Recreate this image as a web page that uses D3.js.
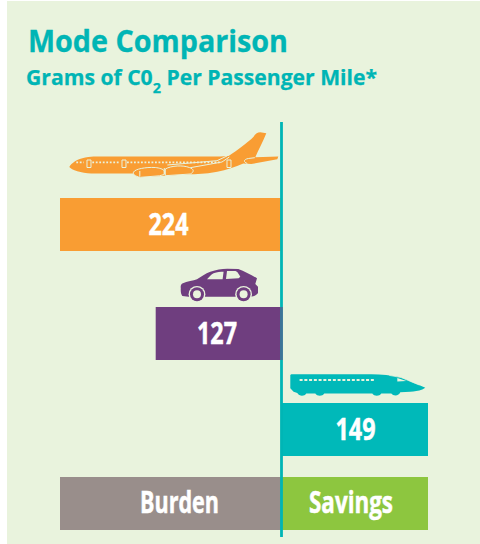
<!DOCTYPE html>
<html><head><meta charset="utf-8">
<script src="https://cdn.jsdelivr.net/npm/d3@7"></script>
<style>html,body{margin:0;padding:0;background:#fff}svg{display:block}</style>
</head><body><div id="c"></div>
<script>
const modes = ["Air","Car","Rail"];
const values = [-224,-127,149];
const valueLabels = ["224","127","149"];
const modeColors = ["#f99d33","#6f3e7f","#00b9b9"];
const legendLabels = ["Burden","Savings"];
const legendValues = [-224,149];
const legendColors = ["#998e8b","#8dc63f"];
const titleText = "Mode Comparison";

const W=480,H=544,BG="#e9f3dd",teal="#00b5b5";
const svg=d3.select("#c").append("svg").attr("width",W).attr("height",H);
svg.append("rect").attr("x",7).attr("y",1).attr("width",473).attr("height",543).attr("fill",BG);

const x=d3.scaleLinear().domain([-224,149]).range([60,428]);
const y=d3.scaleOrdinal().domain(modes).range([198,307,403]);
const bh=53, x0=x(0)+0.3;

svg.append("text").attr("x",28).attr("y",52).attr("fill",teal).attr("stroke",teal).attr("stroke-width",0.3)
  .attr("font-family","'Open Sans'").attr("font-weight",700).attr("font-size",29.5)
  .attr("textLength",260).attr("lengthAdjust","spacingAndGlyphs").text(titleText);
const st=svg.append("text").attr("x",26).attr("y",85).attr("fill",teal).attr("stroke",teal).attr("stroke-width",0.25)
  .attr("font-family","'Open Sans'").attr("font-weight",700).attr("font-size",20.5)
  .attr("textLength",351).attr("lengthAdjust","spacingAndGlyphs");
st.append("tspan").text("Grams of C0");
st.append("tspan").attr("font-size",14).attr("dy",8).text("2");
st.append("tspan").attr("dy",-8).text(" Per Passenger Mile*");

const cond=(s,cx,cy,w)=>svg.append("text").attr("x",cx-w/2).attr("y",cy)
  .attr("fill","#fff").attr("stroke","#fff").attr("stroke-width",0.5).attr("font-family","'Open Sans'").attr("font-weight",700).attr("font-size",29.5)
  .attr("textLength",w).attr("lengthAdjust","spacingAndGlyphs").text(s);

svg.selectAll("rect.bar").data(modes).join("rect").attr("class","bar")
  .attr("x",(d,i)=>Math.min(x(values[i]),x0)).attr("y",d=>y(d))
  .attr("width",(d,i)=>Math.abs(x(values[i])-x0)).attr("height",bh)
  .attr("fill",(d,i)=>modeColors[i]);
const labelCx=[168.5,217,355.5];
modes.forEach((d,i)=>cond(valueLabels[i],labelCx[i],y(d)+bh/2+10.5,40));

const ly=477;
legendLabels.forEach((s,i)=>{
  svg.append("rect").attr("x",Math.min(x(legendValues[i]),x0)).attr("y",ly)
    .attr("width",Math.abs(x(legendValues[i])-x0)).attr("height",bh).attr("fill",legendColors[i]);
});
cond(legendLabels[0],179.5,ly+36,79);
cond(legendLabels[1],351,ly+36,84);

// plane icon
const plane=svg.append("g").attr("transform",`translate(${x0},${y("Air")})`);
const paint=(g,d,fill,stroke,sw)=>g.append("path").attr("d",d).attr("fill",fill||"none").attr("stroke",stroke||"none").attr("stroke-width",sw||0);
paint(plane,"M-212,-31 C-210,-35 -204,-39 -196,-40.5 C-192,-41.3 -188,-41.5 -186,-41.5 L-61,-41.5 L-52.7,-42 C-44,-48 -34,-55 -27.7,-61.3 C-26,-64 -24,-65.7 -21,-65.7 L-15,-64.7 C-18,-57 -23,-48 -26,-40.7 L-3,-41.5 L-4,-38.7 L-30,-34 L-38,-34.5 C-46,-31 -55,-28 -64,-26.3 C-72,-24.8 -80,-24 -91,-23.7 L-116,-22.3 L-141,-20.7 L-147,-24.5 L-190,-24.5 C-200,-25 -210,-28 -212,-31Z",modeColors[0]);
paint(plane,"M-26.5,-40.3 L-33,-39.5 C-38,-38.5 -38,-36 -34,-34.5",null,BG,1);
paint(plane,"M-114,-33 L-64.3,-37.3 L-54.3,-42 M-52,-41 L-59.3,-36 L-91,-30.3",null,BG,1);
paint(plane,"M-147.7,-26 C-146,-29 -136,-31 -126,-30.5 C-122,-30 -118,-29 -117,-27 L-117,-23.5 L-122,-22.2 L-141,-20.7 C-146,-21.5 -149,-24 -147.7,-26Z",modeColors[0],BG,1);
paint(plane,"M-116,-29 C-110,-32.5 -98,-33 -92,-30.5 C-87,-29 -87,-26 -91,-24 L-116,-22.3Z",modeColors[0],BG,1);
paint(plane,"M-194.3,-38 h4 v7.5 h-4z M-159.3,-38 h4 v7.5 h-4z M-54.3,-38 h4 v7.5 h-4z M-141.5,-27 v5.5 M-117,-30 v6",null,BG,1);
plane.append("path").attr("fill","none").attr("stroke",BG).attr("stroke-width",1.8).attr("stroke-dasharray","1.8 1.7")
 .attr("d","M-205,-35.7 H-197.5 M-189,-35.7 H-161.5 M-154.3,-35.7 H-61");

// car icon
const car=svg.append("g").attr("transform",`translate(${x0},${y("Car")})`);
paint(car,"M-100.5,-19 C-101,-21 -100,-23 -99,-23.5 C-94,-25.5 -88,-26.5 -84.3,-27.7 C-80,-30.5 -76,-33.5 -71,-35.3 C-65,-37.3 -60,-38 -54,-38.3 L-43,-38 C-37,-36 -30,-32 -24.3,-28.7 L-26,-23 L-23.3,-20.3 L-23.3,-14 C-25,-11.5 -28,-10.5 -31,-10.3 L-92.7,-10.3 L-99,-11 C-100.5,-13 -100.7,-16 -100.5,-19Z",modeColors[1]);
paint(car,"M-74.3,-27.7 C-72,-30 -70,-32.5 -67.7,-33.7 C-64,-35 -61,-35.3 -57.7,-35.3 L-58.7,-27.7Z",BG);
paint(car,"M-54.3,-36 L-46,-36 C-44,-36 -42,-32 -41,-30.3 L-42.7,-28.7 L-55.3,-28Z",BG);
[-84.3,-37.7].forEach(cx=>{
  car.append("circle").attr("cx",cx).attr("cy",-12.7).attr("r",8.4).attr("fill",BG);
  car.append("circle").attr("cx",cx).attr("cy",-12.7).attr("r",7).attr("fill",modeColors[1]);
  car.append("circle").attr("cx",cx).attr("cy",-12.7).attr("r",4).attr("fill",BG);
});

// train icon
const train=svg.append("g").attr("transform",`translate(${x0},${y("Rail")})`);
paint(train,"M9,-28 L10,-28.7 L90,-28.7 C100,-28.7 110,-27.5 119,-25.7 C127,-22.5 137,-18 144,-15.3 L141,-13.5 C137,-12 133,-11.5 129,-11.3 L119,-10.7 C118,-7 112,-6.5 110,-9.5 L100,-9.5 C98,-6.5 93,-6.5 91,-9.5 L43,-9.5 C41,-6.5 36,-6.5 34,-9.5 L25,-9.5 C23,-6.5 18,-6.5 16,-10 L12.3,-11.3 L9,-14.7Z",modeColors[2]);
train.append("path").attr("fill","none").attr("stroke",BG).attr("stroke-width",2.2).attr("stroke-dasharray","3 1.75").attr("d","M18.3,-23 H94");
paint(train,"M116,-25 L125,-22 L116,-21.5Z",BG);
paint(train,"M108,-27.6 L120,-25.4 L138,-18",null,BG,0.7);

// axis
svg.append("line").attr("x1",x0+0.2).attr("x2",x0+0.2).attr("y1",122).attr("y2",537).attr("stroke",teal).attr("stroke-width",2.8);
// car bar sits over the axis, tinting it
svg.append("rect").attr("x",x0-1.2).attr("y",y("Car")).attr("width",2.8).attr("height",bh).attr("fill",modeColors[1]).attr("opacity",0.55);
</script></body></html>
